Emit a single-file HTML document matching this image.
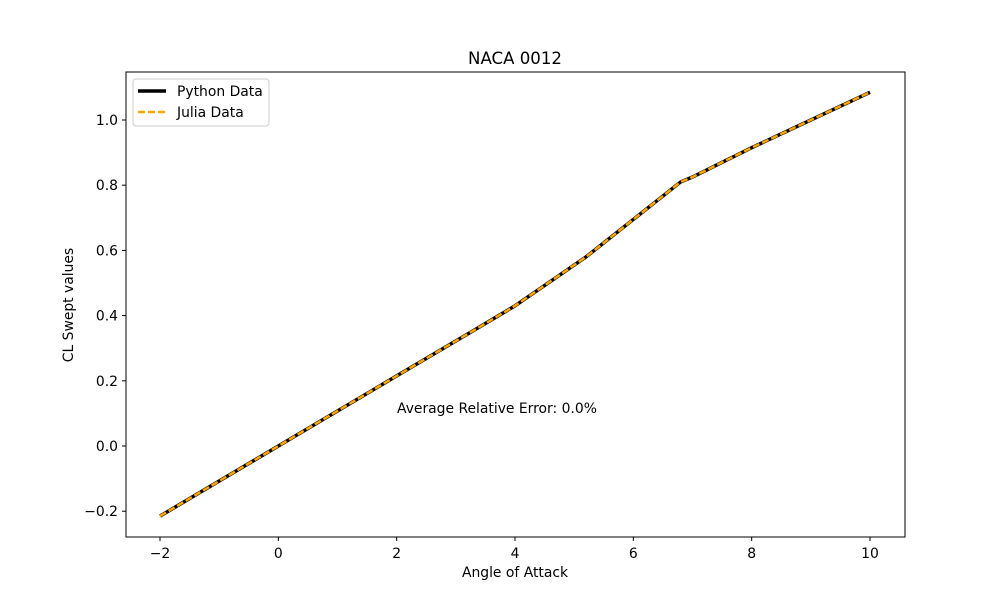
<!DOCTYPE html>
<html><head><meta charset="utf-8"><style>
body{margin:0;background:#fff;}
svg{display:block;font-family:"DejaVu Sans","Liberation Sans",sans-serif;}
</style></head><body>
<svg id="chart" width="1006" height="603" viewBox="0 0 1006 603">
<rect x="0" y="0" width="1006" height="603" fill="#fff"/>
<text x="515" y="64" font-size="16.6" text-anchor="middle">NACA 0012</text>
<g id="plot"></g>
<rect x="126" y="72" width="779" height="465" fill="none" stroke="#000" stroke-width="1"/>
<text x="515" y="577" font-size="13.9" text-anchor="middle">Angle of Attack</text>
<text x="73" y="305" font-size="13.9" text-anchor="middle" transform="rotate(-90 73 305)">CL Swept values</text>
<text x="397" y="413" font-size="13.9">Average Relative Error: 0.0%</text>
<g>
<rect x="133" y="79" width="136" height="47" rx="3" fill="#fff" stroke="#ccc"/>
<line x1="138" y1="91" x2="166" y2="91" stroke="#000" stroke-width="3.5"/>
<text x="177" y="96" font-size="13.9">Python Data</text>
<line x1="138" y1="112" x2="166" y2="112" stroke="#ffa500" stroke-width="2.5" stroke-dasharray="7,3"/>
<text x="177" y="117" font-size="13.9">Julia Data</text>
</g>
</svg>
<script>
const angles = [-2, 0, 2, 3.4, 4, 5.2, 6.8, 7, 8, 10];
const pythonCL = [-0.215, 0.0, 0.215, 0.365, 0.43, 0.58, 0.81, 0.825, 0.915, 1.085];
const juliaCL = [-0.215, 0.0, 0.215, 0.365, 0.43, 0.58, 0.81, 0.825, 0.915, 1.085];
const xTicks = [-2, 0, 2, 4, 6, 8, 10];
const yTicks = [-0.2, 0.0, 0.2, 0.4, 0.6, 0.8, 1.0];
const yTickLabels = ["\u22120.2", "0.0", "0.2", "0.4", "0.6", "0.8", "1.0"];
const xTickLabels = ["\u22122", "0", "2", "4", "6", "8", "10"];

const NS = "http://www.w3.org/2000/svg";
const g = document.getElementById("plot");
function xs(v){ return 160 + (v + 2) * (710 / 12); }
function ys(v){ return 446 - v * 326; }
function mk(tag, attrs){ const e = document.createElementNS(NS, tag); for (const k in attrs) e.setAttribute(k, attrs[k]); g.appendChild(e); return e; }

xTicks.forEach((t, i) => {
  const l = mk("line", {x1: xs(t), x2: xs(t), y1: 537, y2: 541, stroke: "#000"});
  
  
  const tx = mk("text", {x: xs(t), y: 558, "font-size": 13.9, "text-anchor": "middle"});
  tx.textContent = xTickLabels[i];
  
  
});
yTicks.forEach((t, i) => {
  const l = mk("line", {x1: 122, x2: 126, y1: ys(t), y2: ys(t), stroke: "#000"});
  
  
  const tx = mk("text", {x: 118, y: ys(t) + 5, "font-size": 13.9, "text-anchor": "end"});
  tx.textContent = yTickLabels[i];
  
  
});
const pPts = angles.map((a, i) => xs(a) + "," + ys(pythonCL[i])).join(" ");
const p = mk("polyline", {points: pPts, fill: "none", stroke: "#000", "stroke-width": 3.5, "stroke-linejoin": "round"});


const jPts = angles.map((a, i) => xs(a) + "," + ys(juliaCL[i])).join(" ");
const j = mk("polyline", {points: jPts, fill: "none", stroke: "#ffa500", "stroke-width": 2.5, "stroke-dasharray": "7,3"});


</script>
</body></html>
